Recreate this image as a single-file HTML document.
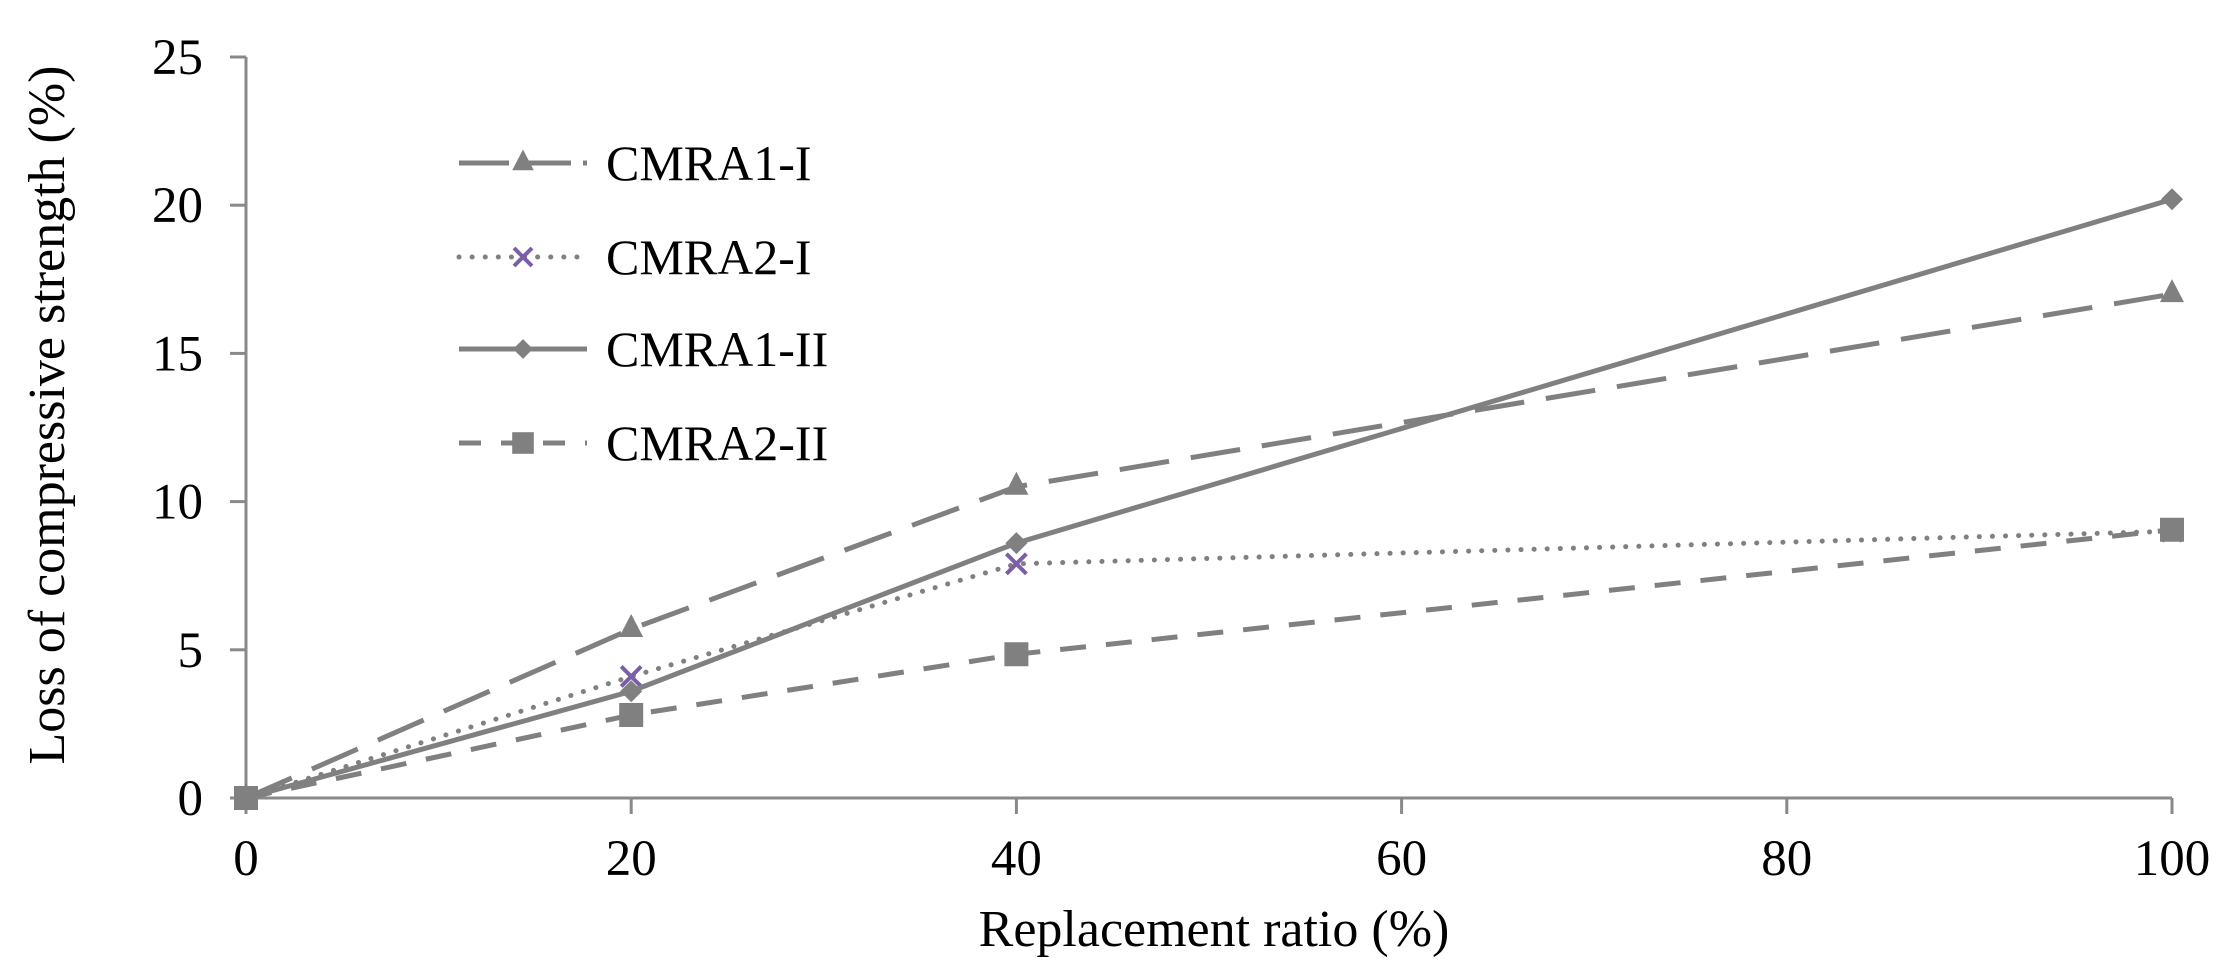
<!DOCTYPE html>
<html><head><meta charset="utf-8"><style>
html,body{margin:0;padding:0;background:#fff;}
svg{display:block;font-family:"Liberation Serif",serif;}
</style></head><body>
<svg id="chart" width="2231" height="971" viewBox="0 0 2231 971" xmlns="http://www.w3.org/2000/svg">
<g id="axes"></g><g id="series"></g><g id="legend"></g>
<text x="0" y="0" transform="translate(64,415) rotate(-90)" text-anchor="middle" font-size="52" fill="#000">Loss of compressive strength (%)</text>
<text x="1214" y="946" text-anchor="middle" font-size="52" fill="#000">Replacement ratio (%)</text>
</svg>
<script>
const categories = [0, 20, 40, 100];
const cmra1I = [0, 5.7, 10.5, 17.0];
const cmra2I = [0, 4.1, 7.9, 9.0];
const cmra1II = [0, 3.6, 8.6, 20.2];
const cmra2II = [0, 2.8, 4.85, 9.05];
const xTicks = [0, 20, 40, 60, 80, 100];
const yTicks = [0, 5, 10, 15, 20, 25];
const seriesNames = ["CMRA1-I", "CMRA2-I", "CMRA1-II", "CMRA2-II"];

const NS = "http://www.w3.org/2000/svg";
const X0 = 246, X1 = 2172, Y0 = 798, Y1 = 57;
function xs(v){ return X0 + (v - 0) / 100 * (X1 - X0); }
function ys(v){ return Y0 - (v - 0) / 25 * (Y0 - Y1); }
function mk(tag, attrs, parent){ const e = document.createElementNS(NS, tag); for (const k in attrs) e.setAttribute(k, attrs[k]); parent.appendChild(e); return e; }
const AX = "#898989", GR = "#808080";
const axes = document.getElementById("axes");
let l = mk("line", {x1:X0, y1:Y1, x2:X0, y2:Y0, stroke:AX, "stroke-width":3}, axes);


l = mk("line", {x1:X0, y1:Y0, x2:X1, y2:Y0, stroke:AX, "stroke-width":3}, axes);


yTicks.forEach(t => {
  const tk = mk("line", {x1:X0-16, y1:ys(t), x2:X0, y2:ys(t), stroke:AX, "stroke-width":3}, axes);
  
  
  const tx = mk("text", {x:203, y:ys(t)+17, "text-anchor":"end", "font-size":51, fill:"#000"}, axes);
  tx.textContent = t;
  
  
});
xTicks.forEach(t => {
  const tk = mk("line", {x1:xs(t), y1:Y0, x2:xs(t), y2:Y0+16, stroke:AX, "stroke-width":3}, axes);
  
  
  const tx = mk("text", {x:xs(t), y:875, "text-anchor":"middle", "font-size":51, fill:"#000"}, axes);
  tx.textContent = t;
  
  
});
const styles = [
  {data:cmra1I, dash:"50 22", cap:"butt", marker:"tri"},
  {data:cmra2I, dash:"0.1 13", cap:"round", marker:"x"},
  {data:cmra1II, dash:"", cap:"butt", marker:"dia"},
  {data:cmra2II, dash:"26 20", cap:"butt", marker:"sq"}
];
function marker(type, x, y, g, s){
  s = s || 1;
  let m;
  if (type === "tri") m = mk("polygon", {points:`${x},${y-15*s} ${x-12*s},${y+8*s} ${x+12*s},${y+8*s}`, fill:GR}, g);
  else if (type === "dia") m = mk("polygon", {points:`${x},${y-11*s} ${x+11*s},${y} ${x},${y+11*s} ${x-11*s},${y}`, fill:GR}, g);
  else if (type === "sq") m = mk("rect", {x:x-12*s, y:y-12*s, width:24*s, height:24*s, fill:GR}, g);
  else m = mk("path", {d:`M${x-10*s},${y-10*s}L${x+10*s},${y+10*s}M${x+10*s},${y-10*s}L${x-10*s},${y+10*s}`, stroke:"#7a5ea8", "stroke-width":4, fill:"none"}, g);
  return m;
}
const sg = document.getElementById("series");
styles.forEach((st, i) => {
  const g = mk("g", {}, sg);
  
  
  const pts = st.data.map((v, j) => xs(categories[j]) + "," + ys(v)).join(" ");
  const pl = mk("polyline", {points:pts, fill:"none", stroke:GR, "stroke-width":5, "stroke-linecap":st.cap, "stroke-linejoin":"round"}, g);
  if (st.dash) pl.setAttribute("stroke-dasharray", st.dash);
  
  
  st.data.forEach((v, j) => {
    const m = marker(st.marker, xs(categories[j]), ys(v), g);
    
    
  });
});
const lg = document.getElementById("legend");
const legY = [163, 257, 349, 443];
styles.forEach((st, i) => {
  const g = mk("g", {}, lg);
  
  
  const ln = mk("line", {x1:459, y1:legY[i], x2:587, y2:legY[i], stroke:GR, "stroke-width":5, "stroke-linecap":st.cap}, g);
  if (st.dash) ln.setAttribute("stroke-dasharray", i===0 ? "50 12" : (i===3 ? "22 20" : st.dash));
  
  
  const m = marker(st.marker, 523, legY[i], g, 0.9);
  
  
  const t = mk("text", {x:606, y:legY[i]+17, "font-size":50, fill:"#000"}, g);
  t.textContent = seriesNames[i];
  
  
});
</script>
</body></html>
